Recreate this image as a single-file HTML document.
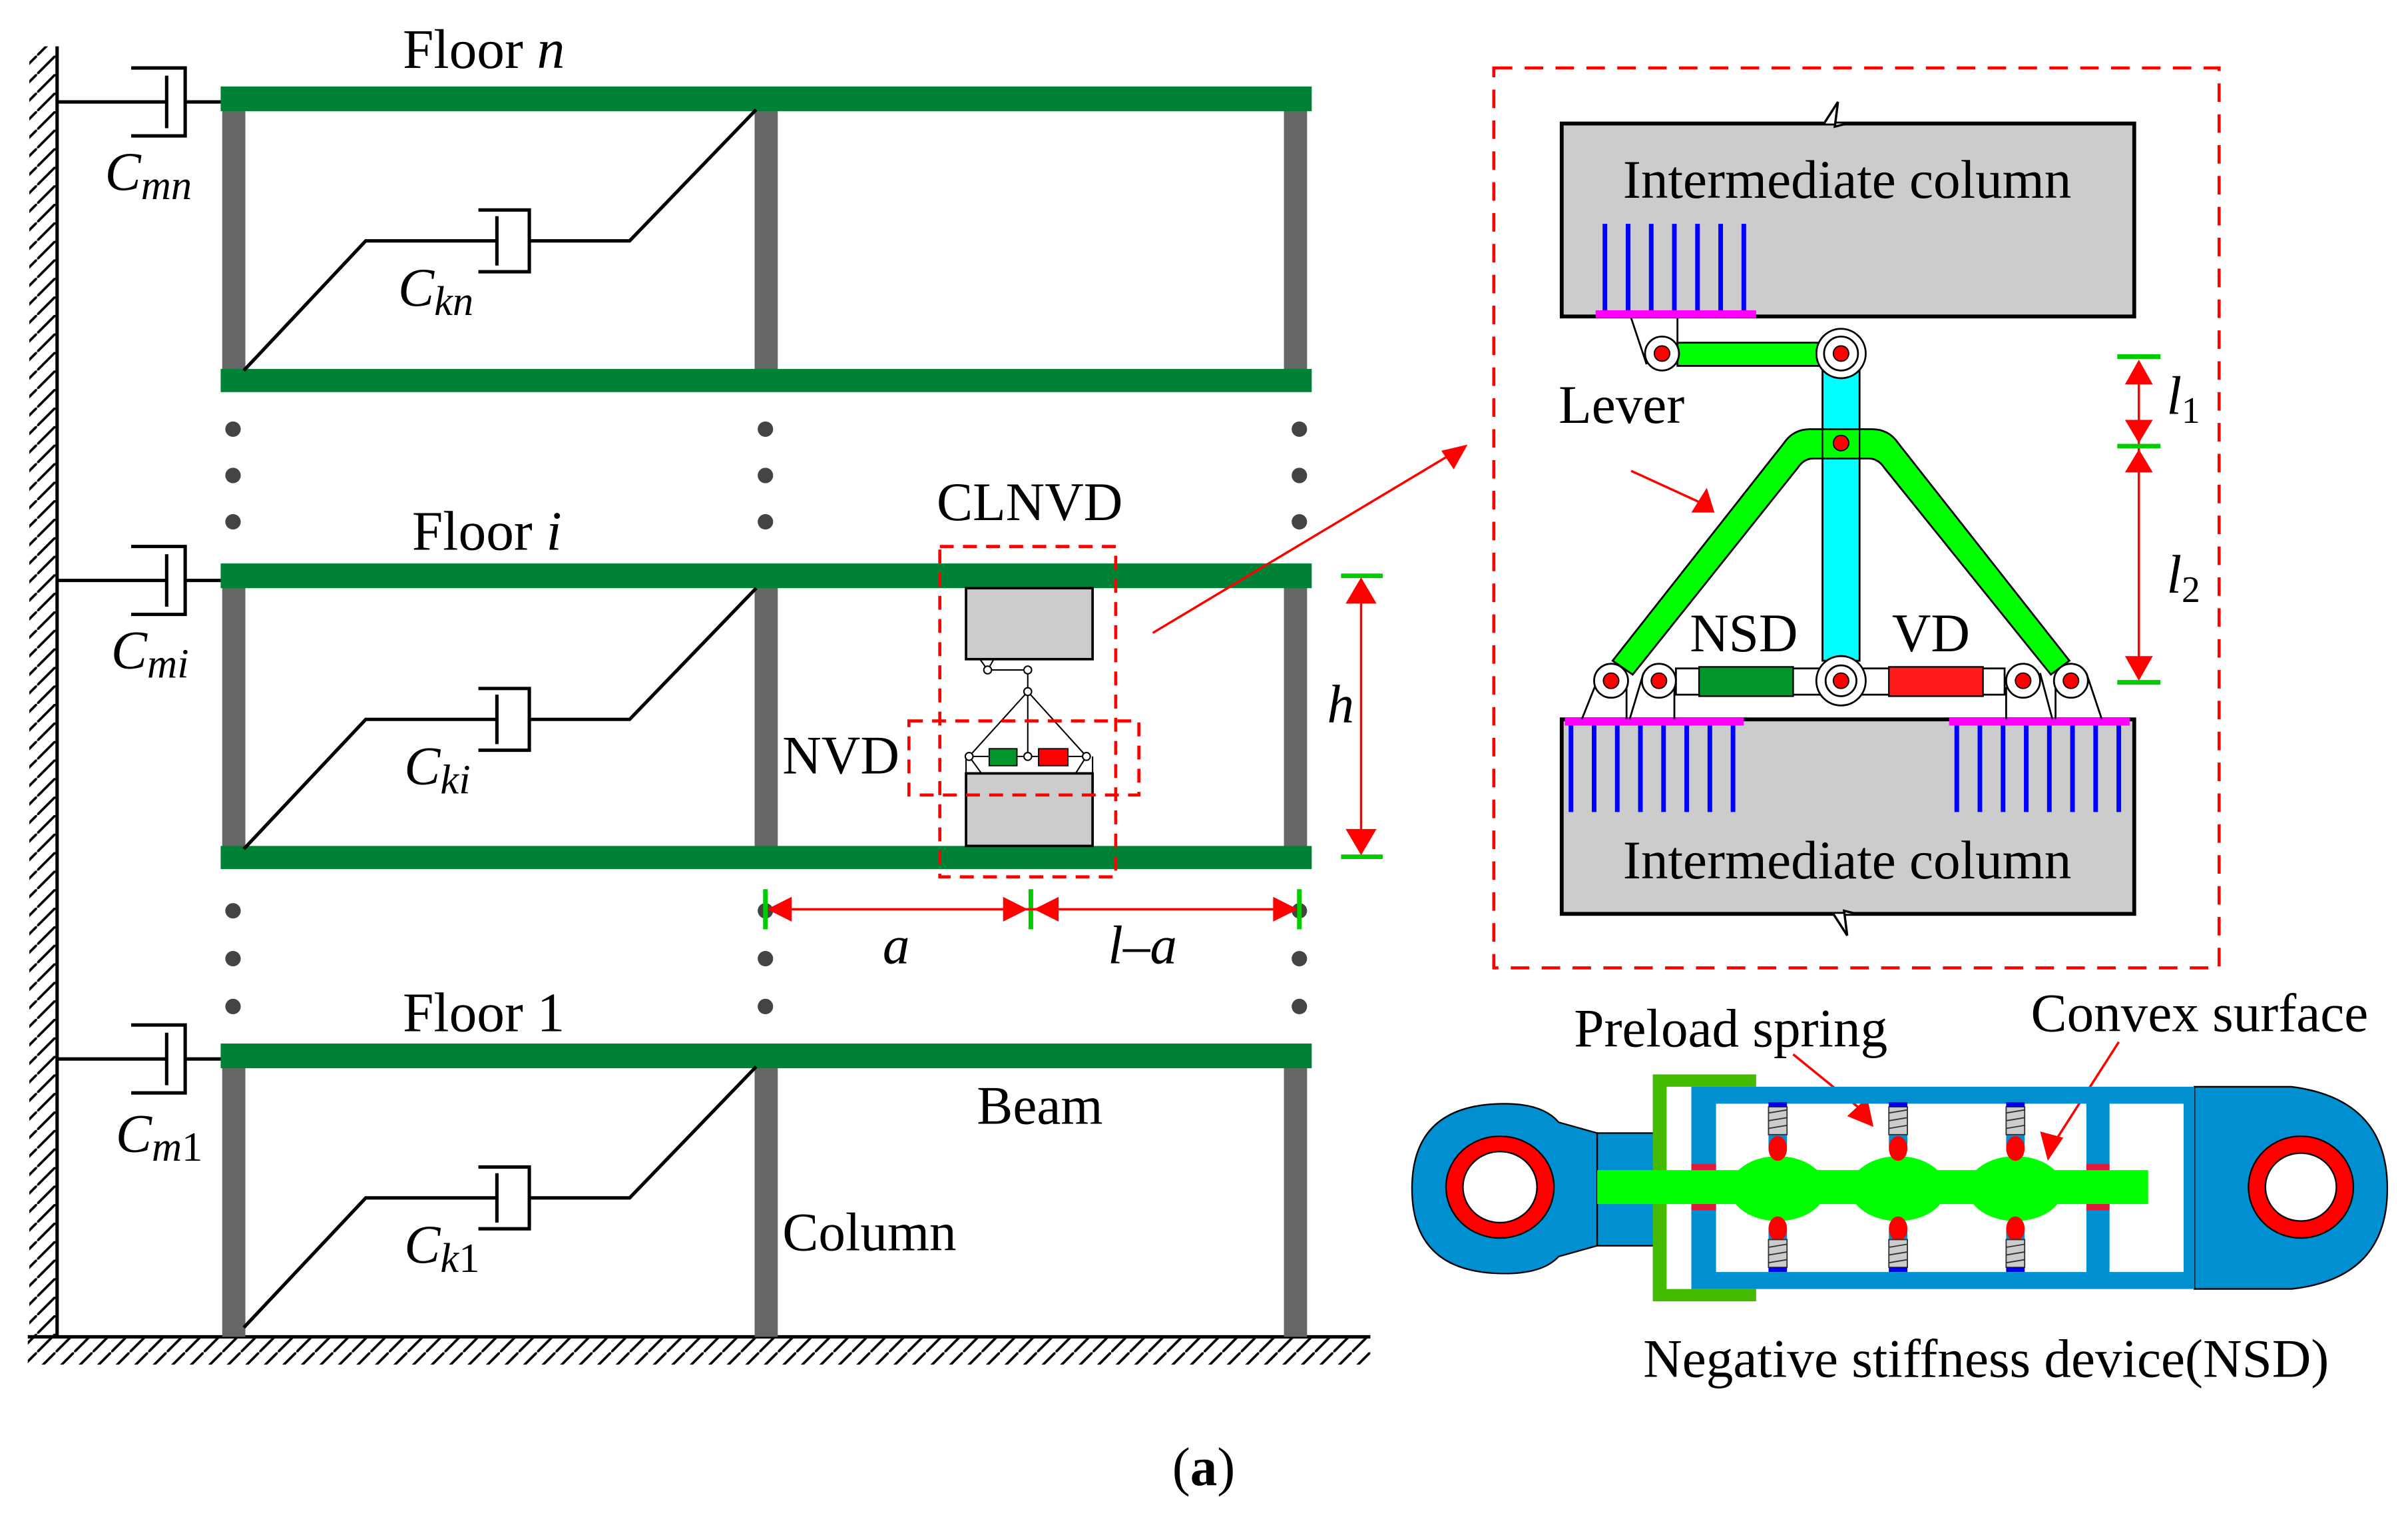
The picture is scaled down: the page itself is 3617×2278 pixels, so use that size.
<!DOCTYPE html>
<html><head><meta charset="utf-8"><style>
html,body{margin:0;padding:0;background:#fff;}
svg{display:block;}
text{font-family:"Liberation Serif",serif;fill:#000;}
.it{font-style:italic;}
</style></head><body>
<svg width="3617" height="2278" viewBox="0 0 1560.4 982.7" xmlns="http://www.w3.org/2000/svg">
<defs>
<pattern id="hw" width="12" height="12" patternUnits="userSpaceOnUse"><line x1="12" y1="0" x2="0" y2="12" stroke="#000" stroke-width="1.6"/></pattern>
</defs>
<rect x="19" y="30" width="18" height="836" fill="url(#hw)"/>
<line x1="37" y1="30" x2="37" y2="866" stroke="#000" stroke-width="2.2"/>
<rect x="18" y="866" width="870" height="18" fill="url(#hw)"/>
<line x1="18" y1="866" x2="888" y2="866" stroke="#000" stroke-width="2.2"/>
<g fill="#666">
<rect x="144" y="63" width="15" height="183"/><rect x="489" y="63" width="15" height="183"/><rect x="832" y="63" width="15" height="183"/>
<rect x="144" y="372" width="15" height="183"/><rect x="489" y="372" width="15" height="183"/><rect x="832" y="372" width="15" height="183"/>
<rect x="144" y="683" width="15" height="183"/><rect x="489" y="683" width="15" height="183"/><rect x="832" y="683" width="15" height="183"/>
</g>
<g fill="#008236">
<rect x="143" y="56" width="707" height="16"/><rect x="143" y="239" width="707" height="15"/>
<rect x="143" y="365" width="707" height="16"/><rect x="143" y="548" width="707" height="15"/>
<rect x="143" y="676" width="707" height="16"/>
</g>
<g fill="#444">
<circle cx="151" cy="278" r="5"/><circle cx="151" cy="308" r="5"/><circle cx="151" cy="338" r="5"/>
<circle cx="496" cy="278" r="5"/><circle cx="496" cy="308" r="5"/><circle cx="496" cy="338" r="5"/>
<circle cx="842" cy="278" r="5"/><circle cx="842" cy="308" r="5"/><circle cx="842" cy="338" r="5"/>
<circle cx="151" cy="590" r="5"/><circle cx="151" cy="621" r="5"/><circle cx="151" cy="652" r="5"/>
<circle cx="496" cy="590" r="5"/><circle cx="496" cy="621" r="5"/><circle cx="496" cy="652" r="5"/>
<circle cx="842" cy="590" r="5"/><circle cx="842" cy="621" r="5"/><circle cx="842" cy="652" r="5"/>
</g>
<g fill="none" stroke="#000" stroke-width="2.2">
<g id="dm"><polyline points="37,66 108,66"/><line x1="108" y1="49" x2="108" y2="83"/><polyline points="85,44 120,44 120,88 85,88"/><line x1="120" y1="66" x2="143" y2="66"/></g>
<use href="#dm" y="310"/><use href="#dm" y="620"/>
<g id="bd"><polyline points="158,240 237,156 322,156"/><line x1="322" y1="140" x2="322" y2="172"/><polyline points="310,136 343,136 343,176 310,176"/><polyline points="343,156 408,156 490,71"/></g>
<use href="#bd" y="310"/><use href="#bd" y="620"/>
</g>
<g font-size="35">
<text x="261" y="44" font-size="36">Floor <tspan class="it">n</tspan></text>
<text x="267" y="356" font-size="36">Floor <tspan class="it">i</tspan></text>
<text x="261" y="668" font-size="36">Floor 1</text>
<text x="68" y="123" class="it">C<tspan font-size="27" dy="6">mn</tspan></text>
<text x="72" y="433" class="it">C<tspan font-size="27" dy="6">mi</tspan></text>
<text x="75" y="746" class="it">C<tspan font-size="27" dy="6">m</tspan><tspan font-style="normal" font-size="27">1</tspan></text>
<text x="258" y="198" class="it">C<tspan font-size="27" dy="6">kn</tspan></text>
<text x="262" y="508" class="it">C<tspan font-size="27" dy="6">ki</tspan></text>
<text x="262" y="818" class="it">C<tspan font-size="27" dy="6">k</tspan><tspan font-style="normal" font-size="27">1</tspan></text>
<text x="607" y="337">CLNVD</text>
<text x="507" y="501">NVD</text>
<text x="633" y="728">Beam</text>
<text x="507" y="810">Column</text>
<text x="860" y="468" class="it">h</text>
<text x="572" y="624" class="it">a</text>
<text x="718" y="624" class="it">l–a</text>
</g>
<rect x="626" y="381" width="82" height="46" fill="#ccc" stroke="#000" stroke-width="1.6"/>
<rect x="626" y="501" width="82" height="47" fill="#ccc" stroke="#000" stroke-width="1.6"/>
<g fill="none" stroke="#000" stroke-width="0.9">
<polyline points="635,427 640,434 644,427"/>
<line x1="640" y1="434" x2="666" y2="434"/><line x1="666" y1="434" x2="666" y2="490"/>
<polyline points="628,490 666,448 704,490"/><line x1="628" y1="490" x2="704" y2="490"/>
<polyline points="628,490 636,501"/><polyline points="704,490 697,501"/><line x1="626" y1="490" x2="626" y2="501"/><line x1="708" y1="490" x2="708" y2="501"/>
<circle cx="640" cy="434" r="2.5" fill="#fff"/><circle cx="666" cy="434" r="2.5" fill="#fff"/><circle cx="666" cy="448" r="2.5" fill="#fff"/>
</g>
<rect x="641" y="485" width="18" height="11" fill="#00962a" stroke="#000" stroke-width="0.8"/>
<rect x="673" y="485" width="19" height="11" fill="#f00" stroke="#000" stroke-width="0.8"/>
<g fill="#fff" stroke="#000" stroke-width="0.9"><circle cx="628" cy="490" r="2.5"/><circle cx="666" cy="490" r="2.5"/><circle cx="704" cy="490" r="2.5"/></g>
<g fill="none" stroke="#f00" stroke-width="2" stroke-dasharray="9,6">
<rect x="609" y="354" width="114" height="214"/>
<rect x="589" y="467" width="149" height="48"/>
</g>
<g stroke="#0c0" stroke-width="3"><line x1="869" y1="373" x2="896" y2="373"/><line x1="869" y1="555" x2="896" y2="555"/>
<line x1="496" y1="576" x2="496" y2="602"/><line x1="668" y1="576" x2="668" y2="602"/><line x1="842" y1="576" x2="842" y2="602"/></g>
<g stroke="#f00" stroke-width="1.5"><line x1="882" y1="378" x2="882" y2="550"/><line x1="500" y1="589" x2="838" y2="589"/><line x1="747" y1="410" x2="944" y2="292"/>
<line x1="1057" y1="305" x2="1105" y2="327"/><line x1="1386" y1="236" x2="1386" y2="438"/>
<line x1="1162" y1="683" x2="1210" y2="722"/><line x1="1373" y1="675" x2="1330" y2="742"/></g>
<g fill="#f00">
<polygon points="882,374 872,391 892,391"/><polygon points="882,554 872,537 892,537"/>
<polygon points="497,589 513,581 513,597"/><polygon points="666,589 650,581 650,597"/><polygon points="670,589 686,581 686,597"/><polygon points="841,589 825,581 825,597"/>
<polygon points="951,288 934,292 942,304"/>
<polygon points="1111,332 1096,332 1106,316"/>
<polygon points="1386,233 1377,249 1395,249"/><polygon points="1386,287 1377,272 1395,272"/><polygon points="1386,291 1377,306 1395,306"/><polygon points="1386,441 1377,425 1395,425"/>
<polygon points="1214,730 1197,723 1210,711"/><polygon points="1327,752 1322,733 1337,737"/>
</g>
<rect x="968" y="44" width="470" height="583" fill="none" stroke="#f00" stroke-width="2" stroke-dasharray="12,8"/>
<rect x="1012" y="80" width="371" height="125" fill="#ccc" stroke="#000" stroke-width="2.5"/>
<rect x="1012" y="466" width="371" height="126" fill="#ccc" stroke="#000" stroke-width="2.5"/>
<polyline points="1182,80 1191,66 1189,82 1197,80" fill="#fff" stroke="#000" stroke-width="1.5"/>
<polyline points="1188,592 1197,606 1195,590 1203,592" fill="#fff" stroke="#000" stroke-width="1.5"/>
<g font-size="35"><text x="1197" y="128" text-anchor="middle">Intermediate column</text><text x="1197" y="569" text-anchor="middle">Intermediate column</text></g>
<g stroke="#00f" stroke-width="3">
<line x1="1040" y1="145" x2="1040" y2="202"/><line x1="1055" y1="145" x2="1055" y2="202"/><line x1="1070" y1="145" x2="1070" y2="202"/><line x1="1085" y1="145" x2="1085" y2="202"/><line x1="1100" y1="145" x2="1100" y2="202"/><line x1="1115" y1="145" x2="1115" y2="202"/><line x1="1130" y1="145" x2="1130" y2="202"/>
<line x1="1018" y1="468" x2="1018" y2="526"/><line x1="1033" y1="468" x2="1033" y2="526"/><line x1="1048" y1="468" x2="1048" y2="526"/><line x1="1063" y1="468" x2="1063" y2="526"/><line x1="1078" y1="468" x2="1078" y2="526"/><line x1="1093" y1="468" x2="1093" y2="526"/><line x1="1108" y1="468" x2="1108" y2="526"/><line x1="1123" y1="468" x2="1123" y2="526"/>
<line x1="1268" y1="468" x2="1268" y2="526"/><line x1="1283" y1="468" x2="1283" y2="526"/><line x1="1298" y1="468" x2="1298" y2="526"/><line x1="1313" y1="468" x2="1313" y2="526"/><line x1="1328" y1="468" x2="1328" y2="526"/><line x1="1343" y1="468" x2="1343" y2="526"/><line x1="1358" y1="468" x2="1358" y2="526"/><line x1="1373" y1="468" x2="1373" y2="526"/>
</g>
<g fill="#f0f"><rect x="1034" y="201" width="104" height="5"/><rect x="1014" y="465" width="116" height="5"/><rect x="1263" y="465" width="117" height="5"/></g>
<g stroke="#000" stroke-width="1.2" fill="none">
<polyline points="1057,206 1067,236"/><line x1="1087" y1="206" x2="1087" y2="235"/>
<polyline points="1025,466 1037,436"/><polyline points="1054,466 1054,440"/><polyline points="1056,466 1065,436"/><line x1="1085" y1="466" x2="1085" y2="445"/>
<line x1="1300" y1="466" x2="1300" y2="445"/><polyline points="1330,466 1322,436"/><line x1="1332" y1="466" x2="1332" y2="440"/><polyline points="1362,466 1352,436"/>
</g>
<rect x="1087" y="222" width="94" height="15" fill="#0f0" stroke="#000" stroke-width="1.2"/>
<rect x="1181" y="240" width="24" height="188" fill="#0ff" stroke="#000" stroke-width="1.2"/>
<path d="M1045,428 L1156,287 Q1162,278 1173,278 L1213,278 Q1224,278 1230,287 L1341,428 L1329,437 L1221,303 Q1217,297 1211,297 L1175,297 Q1169,297 1165,303 L1058,437 Z" fill="#0f0" stroke="#000" stroke-width="1.2"/>
<line x1="1181" y1="278" x2="1181" y2="297" stroke="#000"/><line x1="1205" y1="278" x2="1205" y2="297" stroke="#000"/>
<rect x="1086" y="433" width="213" height="17" fill="#fff" stroke="#000" stroke-width="1.2"/>
<rect x="1101" y="432" width="61" height="19" fill="#00962a" stroke="#000" stroke-width="1"/>
<rect x="1224" y="432" width="61" height="19" fill="#ff1a1a" stroke="#000" stroke-width="1"/>
<g fill="#fff" stroke="#000" stroke-width="1.2">
<circle cx="1077" cy="229" r="11"/><circle cx="1193" cy="229" r="16"/><circle cx="1193" cy="229" r="11"/>
<circle cx="1044" cy="441" r="11"/><circle cx="1075" cy="441" r="11"/><circle cx="1193" cy="441" r="16"/><circle cx="1193" cy="441" r="10"/><circle cx="1311" cy="441" r="11"/><circle cx="1342" cy="441" r="11"/>
</g>
<g fill="#f00" stroke="#000" stroke-width="0.8">
<circle cx="1077" cy="229" r="5"/><circle cx="1193" cy="229" r="5"/><circle cx="1193" cy="287" r="5"/>
<circle cx="1044" cy="441" r="5"/><circle cx="1075" cy="441" r="5"/><circle cx="1193" cy="441" r="5"/><circle cx="1311" cy="441" r="5"/><circle cx="1342" cy="441" r="5"/>
</g>
<g stroke="#0c0" stroke-width="3"><line x1="1372" y1="231" x2="1400" y2="231"/><line x1="1372" y1="289" x2="1400" y2="289"/><line x1="1372" y1="442" x2="1400" y2="442"/></g>
<g font-size="35">
<text x="1010" y="274">Lever</text>
<text x="1095" y="422">NSD</text>
<text x="1226" y="422">VD</text>
<text x="1404" y="268" class="it">l<tspan font-style="normal" font-size="24" dy="6">1</tspan></text>
<text x="1404" y="384" class="it">l<tspan font-style="normal" font-size="24" dy="6">2</tspan></text>
<text x="1020" y="678">Preload spring</text>
<text x="1316" y="668">Convex surface</text>
<text x="1287" y="892" text-anchor="middle">Negative stiffness device(NSD)</text>
<text x="780" y="962" text-anchor="middle">(<tspan font-weight="bold">a</tspan>)</text>
</g>
<g stroke="#000" stroke-width="1">
<path d="M975,715 Q1000,715 1010,727 L1035,734 L1035,807 L1010,814 Q1000,825 975,825 Q915,825 915,770 Q915,715 975,715 Z" fill="#0090d2"/>
<rect x="1035" y="734" width="37" height="73" fill="#0090d2"/>
<ellipse cx="972" cy="769" rx="35" ry="33" fill="#f00"/>
<ellipse cx="972" cy="769" rx="24" ry="23" fill="#fff"/>
<path d="M1422,704 H1485 Q1547,712 1547,770 Q1547,828 1485,835 H1422 Z" fill="#0090d2"/>
<ellipse cx="1491" cy="769" rx="34" ry="33" fill="#f00"/>
<ellipse cx="1491" cy="769" rx="23" ry="22" fill="#fff"/>
</g>
<path d="M1071,696 H1138 V704 H1080 V835 H1138 V843 H1071 Z" fill="#44bb00"/>
<path d="M1096,704 H1422 V835 H1096 Z M1112,715 V824 H1352 V715 Z M1367,715 V824 H1415 V715 Z" fill="#0090d2" fill-rule="evenodd"/>
<g fill="#0f0"><ellipse cx="1152" cy="770" rx="31" ry="21"/><ellipse cx="1230" cy="770" rx="31" ry="21"/><ellipse cx="1306" cy="770" rx="31" ry="21"/>
<rect x="1035" y="758" width="357" height="22"/></g>
<g fill="#0090d2"><rect x="1146" y="735" width="12" height="8"/><rect x="1224" y="735" width="12" height="8"/><rect x="1300" y="735" width="12" height="8"/>
<rect x="1146" y="797" width="12" height="8"/><rect x="1224" y="797" width="12" height="8"/><rect x="1300" y="797" width="12" height="8"/></g>
<g fill="#f00"><ellipse cx="1152" cy="744" rx="6" ry="8"/><ellipse cx="1230" cy="744" rx="6" ry="8"/><ellipse cx="1306" cy="744" rx="6" ry="8"/>
<ellipse cx="1152" cy="796" rx="6" ry="8"/><ellipse cx="1230" cy="796" rx="6" ry="8"/><ellipse cx="1306" cy="796" rx="6" ry="8"/></g>
<g fill="#ccc" stroke="#333" stroke-width="0.8">
<rect x="1146" y="717" width="12" height="18"/><rect x="1224" y="717" width="12" height="18"/><rect x="1300" y="717" width="12" height="18"/>
<rect x="1146" y="803" width="12" height="18"/><rect x="1224" y="803" width="12" height="18"/><rect x="1300" y="803" width="12" height="18"/>
</g>
<g stroke="#333" stroke-width="0.8">
<path d="M1146,721 L1158,719 M1146,726 L1158,724 M1146,731 L1158,729 M1224,721 L1236,719 M1224,726 L1236,724 M1224,731 L1236,729 M1300,721 L1312,719 M1300,726 L1312,724 M1300,731 L1312,729"/>
<path d="M1146,808 L1158,806 M1146,813 L1158,811 M1146,818 L1158,816 M1224,808 L1236,806 M1224,813 L1236,811 M1224,818 L1236,816 M1300,808 L1312,806 M1300,813 L1312,811 M1300,818 L1312,816"/>
</g>
<g fill="#0000ee"><rect x="1146" y="714" width="12" height="3"/><rect x="1224" y="714" width="12" height="3"/><rect x="1300" y="714" width="12" height="3"/>
<rect x="1146" y="821" width="12" height="3"/><rect x="1224" y="821" width="12" height="3"/><rect x="1300" y="821" width="12" height="3"/></g>
<g fill="#e0183c"><rect x="1096" y="754" width="16" height="4"/><rect x="1096" y="780" width="16" height="4"/><rect x="1352" y="754" width="15" height="4"/><rect x="1352" y="780" width="15" height="4"/></g>
</svg>
</body></html>
